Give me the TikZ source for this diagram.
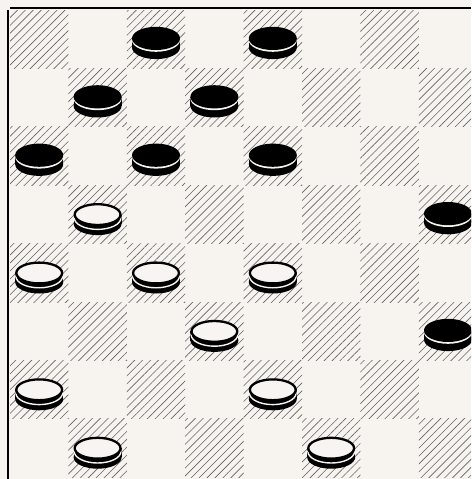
\documentclass[tikz,border=0pt]{standalone}
\usetikzlibrary{patterns.meta}
\definecolor{boardbg}{RGB}{247,243,239}
\definecolor{pieceW}{RGB}{247,244,241}
\definecolor{hatchcol}{RGB}{100,100,100}
\tikzset{
  darksq/.style={pattern={Lines[angle=45,distance=5.6pt,line width=0.6pt]},pattern color=hatchcol},
  border/.style={line width=2.5pt,black},
  blackpiece/.pic={
    \fill[black] (0,8.3) ellipse [x radius=24,y radius=11.6];
    \fill[black] (-24,-0.8) rectangle (24,8.3);
    \fill[pieceW] (0,1.0) ellipse [x radius=24,y radius=11.6];
    \fill[black] (0,-0.8) ellipse [x radius=24,y radius=11.6];
  },
  whitepiece/.pic={
    \fill[black] (0,9.3) ellipse [x radius=24,y radius=11.4];
    \fill[black] (-24,0.2) rectangle (24,9.3);
    \draw[pieceW,line width=1.4pt] (0,3.5) ellipse [x radius=23.3,y radius=11.5];
    \filldraw[fill=pieceW,draw=black,line width=2.3pt] (0,0.2) ellipse [x radius=22.9,y radius=10.4];
  }
}
\begin{document}
\begin{tikzpicture}[x=1pt,y=-1pt]
\useasboundingbox (0,0) rectangle (471,479);
\begin{scope}
\clip (0,0) rectangle (471,479);
\fill[boardbg] (0,0) rectangle (471,479);
\foreach \r in {0,...,7}{
  \foreach \c in {0,...,7}{
    \pgfmathtruncatemacro{\parity}{mod(\r+\c,2)}
    \ifnum\parity=0
      \fill[darksq] ({10+\c*58.4},{10+\r*58.4}) rectangle ({10+(\c+1)*58.4},{10+(\r+1)*58.4});
    \fi
  }
}
\draw[border] (10,8) -- (471,8);
\draw[border] (8,10) -- (8,479);
% black pieces (row/col)
\foreach \r/\c in {0/2,0/4,1/1,1/3,2/0,2/2,2/4,3/7,5/7}{
  \pic at ({10+(\c+0.5)*58.4},{10+(\r+0.5)*58.4}) {blackpiece};
}
% white pieces
\foreach \r/\c in {3/1,4/0,4/2,4/4,5/3,6/0,6/4,7/1,7/5}{
  \pic at ({10+(\c+0.5)*58.4},{10+(\r+0.5)*58.4}) {whitepiece};
}
\end{scope}
\end{tikzpicture}
\end{document}
